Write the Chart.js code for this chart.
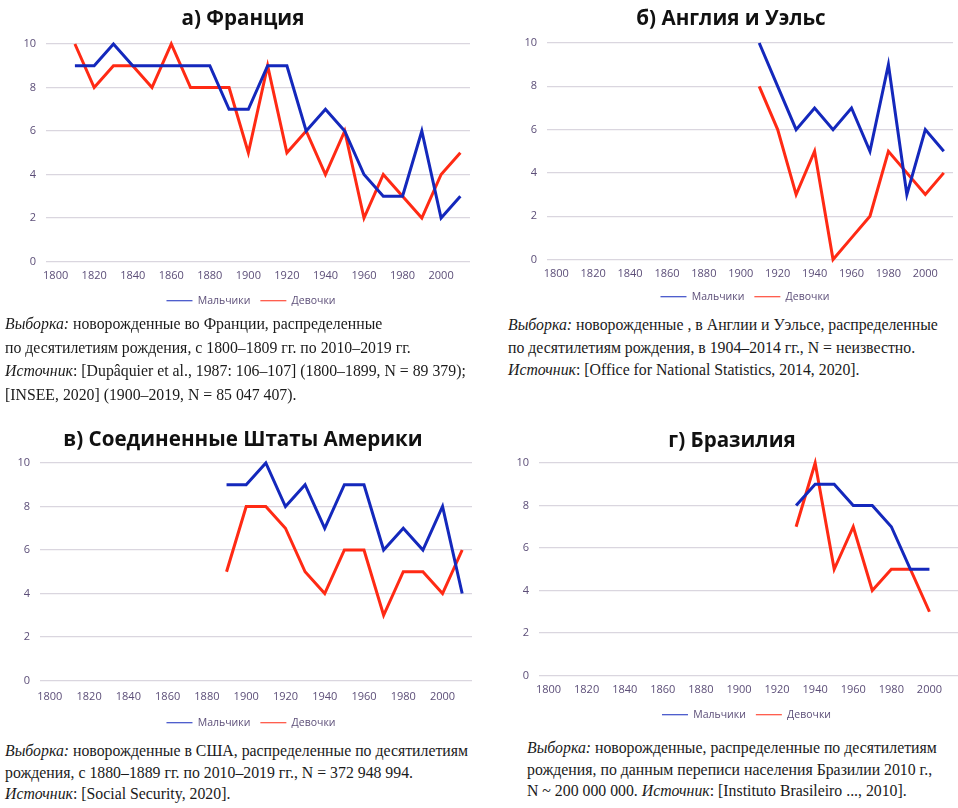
<!DOCTYPE html>
<html lang="ru">
<head>
<meta charset="utf-8">
<title>Доля мальчиков и девочек по десятилетиям рождения</title>
<script src="https://cdn.jsdelivr.net/npm/chart.js@4.4.1/dist/chart.umd.min.js"></script>
<style>
  html, body { margin: 0; padding: 0; background: #ffffff; }
  body { width: 958px; height: 808px; position: relative; overflow: hidden; }
  .panel { position: absolute; }
  .panel canvas { display: block; }
  .head {
    position: absolute;
    transform: translateX(-50%);
    font-family: "Open Sans", sans-serif;
    font-weight: 700;
    font-size: 20.6px;
    line-height: 26px;
    color: #111111;
    white-space: nowrap;
  }
  .note {
    position: absolute;
    font-family: "Liberation Serif", "DejaVu Serif", serif;
    font-size: 15.8px;
    color: #1a1a1a;
    white-space: nowrap;
  }
  .note i { font-style: italic; }
</style>
</head>
<body>

<div class="panel" style="left:0;top:0;width:486px;height:316px"><canvas id="chartA" width="486" height="316"></canvas></div>
<div class="panel" style="left:505px;top:0;width:453px;height:312px"><canvas id="chartB" width="453" height="312"></canvas></div>
<div class="panel" style="left:0;top:420px;width:486px;height:318px"><canvas id="chartC" width="486" height="318"></canvas></div>
<div class="panel" style="left:507px;top:420px;width:451px;height:310px"><canvas id="chartD" width="451" height="310"></canvas></div>

<div class="head" style="left:243px;top:4px">а) Франция</div>
<div class="head" style="left:731px;top:4px">б) Англия и Уэльс</div>
<div class="head" style="left:243px;top:425px">в) Соединенные Штаты Америки</div>
<div class="head" style="left:732px;top:426px">г) Бразилия</div>

<div class="note" style="left:5px;top:312px;line-height:23.5px">
  <i>Выборка:</i> новорожденные во Франции, распределенные<br>
  по десятилетиям рождения, с 1800–1809 гг. по 2010–2019 гг.<br>
  <i>Источник</i>: [Dupâquier et al., 1987: 106–107] (1800–1899, N = 89 379);<br>
  [INSEE, 2020] (1900–2019, N = 85 047 407).
</div>
<div class="note" style="left:508px;top:314px;line-height:22.5px">
  <i>Выборка:</i> новорожденные , в Англии и Уэльсе, распределенные<br>
  по десятилетиям рождения, в 1904–2014 гг., N = неизвестно.<br>
  <i>Источник</i>: [Office for National Statistics, 2014, 2020].
</div>
<div class="note" style="left:5px;top:740px;line-height:21.5px">
  <i>Выборка:</i> новорожденные в США, распределенные по десятилетиям<br>
  рождения, с 1880–1889 гг. по 2010–2019 гг., N = 372 948 994.<br>
  <i>Источник</i>: [Social Security, 2020].
</div>
<div class="note" style="left:527px;top:737px;line-height:21.5px">
  <i>Выборка:</i> новорожденные, распределенные по десятилетиям<br>
  рождения, по данным переписи населения Бразилии 2010 г.,<br>
  N ~ 200 000 000. <i>Источник</i>: [Instituto Brasileiro ..., 2010].
</div>

<script>
// Decades of birth shown on every horizontal axis
const decades = [1800, 1810, 1820, 1830, 1840, 1850, 1860, 1870, 1880, 1890, 1900,
                 1910, 1920, 1930, 1940, 1950, 1960, 1970, 1980, 1990, 2000, 2010];
const yTicks = [0, 2, 4, 6, 8, 10];
const seriesNames = ['Мальчики', 'Девочки'];

// а) France, from the 1810s
const franceFirst = 1810;
const franceBoys  = [9, 9, 10, 9, 9, 9, 9, 9, 7, 7, 9, 9, 6, 7, 6, 4, 3, 3, 6, 2, 3];
const franceGirls = [10, 8, 9, 9, 8, 10, 8, 8, 8, 5, 9, 5, 6, 4, 6, 2, 4, 3, 2, 4, 5];

// б) England and Wales, from the 1910s
const englandFirst = 1910;
const englandBoys  = [10, 8, 6, 7, 6, 7, 5, 9, 3, 6, 5];
const englandGirls = [8, 6, 3, 5, 0, 1, 2, 5, 4, 3, 4];

// в) United States, from the 1890s
const usaFirst = 1890;
const usaBoys  = [9, 9, 10, 8, 9, 7, 9, 9, 6, 7, 6, 8, 4];
const usaGirls = [5, 8, 8, 7, 5, 4, 6, 6, 3, 5, 5, 4, 6];

// г) Brazil, from the 1930s
const brazilFirst = 1930;
const brazilBoys  = [8, 9, 9, 8, 8, 7, 5, 5];
const brazilGirls = [7, 10, 5, 7, 4, 5, 5, 3];

const BLUE = '#1428bc';
const RED = '#ff2a14';
const TICK_COLOR = '#5c4e78';
const GRID_COLOR = '#dad6df';
const TICK_FONT = { family: '"Open Sans", sans-serif', size: 11 };

// moves the legend sideways by options.dx pixels after layout
const legendShift = {
  id: 'legendShift',
  afterLayout(chart, args, opts) {
    const lg = chart.legend;
    if (lg && opts.dx) { lg.left += opts.dx; lg.right += opts.dx; }
  }
};

// place a series on the shared decade axis, leaving empty decades as gaps
function alignToDecades(first, values) {
  return decades.map(d => {
    const i = (d - first) / 10;
    return i >= 0 && i < values.length ? values[i] : null;
  });
}

function drawPanel(id, first, boys, girls, pad, yWidth, xHeight, xPad, legendDx) {
  const ctx = document.getElementById(id);
  return new Chart(ctx, {
    type: 'line',
    plugins: [legendShift],
    data: {
      labels: decades,
      datasets: [
        { label: seriesNames[0], data: alignToDecades(first, boys), borderColor: BLUE, backgroundColor: BLUE },
        { label: seriesNames[1], data: alignToDecades(first, girls), borderColor: RED, backgroundColor: RED }
      ]
    },
    options: {
      responsive: false,
      animation: false,
      layout: { padding: pad },
      elements: {
        line: { borderWidth: 3, tension: 0, borderJoinStyle: 'miter', borderCapStyle: 'butt' },
        point: { radius: 0, hoverRadius: 0 }
      },
      datasets: { line: { clip: false, spanGaps: false } },
      plugins: {
        title: { display: false },
        legendShift: { dx: legendDx },
        legend: {
          position: 'bottom',
          labels: {
            color: TICK_COLOR,
            font: { family: '"Open Sans", sans-serif', size: 10.5 },
            usePointStyle: true,
            pointStyle: 'line',
            pointStyleWidth: 26,
            padding: 10
          }
        },
        tooltip: { enabled: false }
      },
      scales: {
        x: {
          type: 'category',
          offset: true,
          grid: { display: false, drawTicks: false },
          border: { display: false },
          ticks: {
            color: TICK_COLOR,
            font: TICK_FONT,
            padding: xPad,
            autoSkip: false,
            maxRotation: 0,
            minRotation: 0,
            callback: function (value) {
              const year = this.getLabelForValue(value);
              return year % 20 === 0 ? String(year) : '';
            }
          },
          afterFit: s => { s.height = xHeight; }
        },
        y: {
          min: yTicks[0],
          max: yTicks[yTicks.length - 1],
          afterBuildTicks: s => { s.ticks = yTicks.map(v => ({ value: v })); },
          grid: { color: GRID_COLOR, lineWidth: 1.2, drawTicks: false },
          border: { display: false },
          ticks: { color: TICK_COLOR, font: TICK_FONT, padding: 10 },
          afterFit: s => { s.width = yWidth; }
        }
      }
    }
  });
}

drawPanel('chartA', franceFirst, franceBoys, franceGirls, { left: 0, right: 16, top: 44, bottom: 0 }, 46, 24, 8, 16);
drawPanel('chartB', englandFirst, englandBoys, englandGirls, { left: 0, right: 5, top: 43, bottom: 0 }, 42, 22, 8, 16);
drawPanel('chartC', usaFirst, usaBoys, usaGirls, { left: 0, right: 14, top: 43, bottom: 0 }, 40, 27, 10, 15);
drawPanel('chartD', brazilFirst, brazilBoys, brazilGirls, { left: 0, right: 0, top: 43, bottom: 0 }, 32, 24, 8, 14);
</script>
</body>
</html>
